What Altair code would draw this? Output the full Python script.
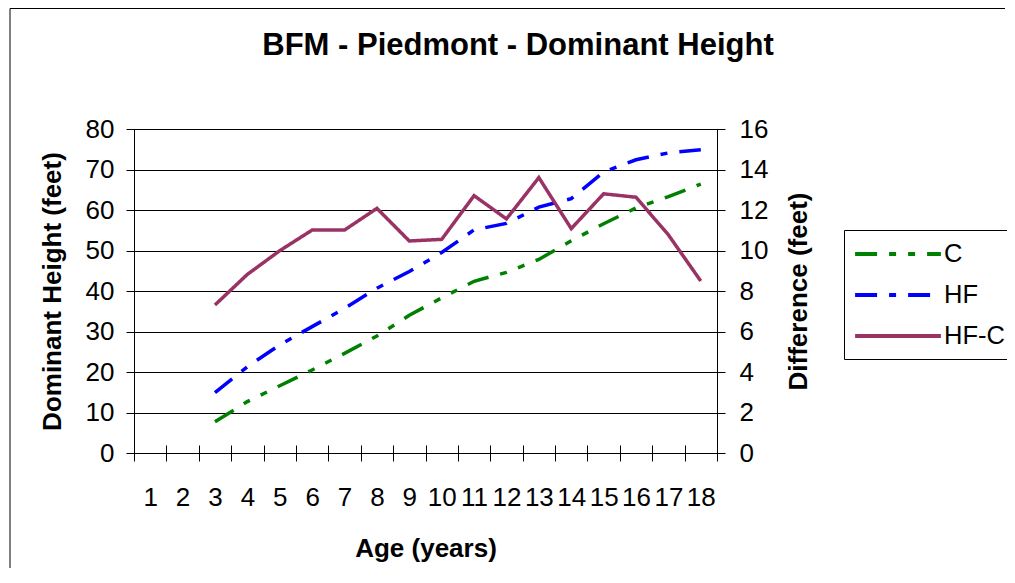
import altair as alt
import pandas as pd

# ---- data ----
ages = list(range(1, 19))
c_vals = [None, None, 7.7, 12.7, 16.6, 20.5, 24.6, 28.9, 34.0, 38.3, 42.4, 44.6, 47.8, 52.4, 56.6, 60.5, 63.3, 66.4]
hf_vals = [None, None, 14.9, 21.3, 26.7, 31.2, 35.7, 40.7, 44.8, 49.5, 55.1, 56.7, 60.7, 62.8, 69.4, 72.4, 74.1, 74.9]
hfc_vals = [None, None, 7.31, 8.82, 9.99, 11.01, 11.01, 12.08, 10.47, 10.55, 12.71, 11.56, 13.6, 11.08, 12.8, 12.63, 10.77, 8.49]

series_names = ["C", "HF", "HF-C"]
series_colors = ["#008000", "#0000FF", "#993366"]
series_dashes = [[22, 12, 7, 12, 7, 12], [22, 12, 7, 12], [1, 0]]

left_ticks = [0, 10, 20, 30, 40, 50, 60, 70, 80]
right_ticks = [0, 2, 4, 6, 8, 10, 12, 14, 16]

FONT = "Liberation Sans"

rows = []
for name, vals in zip(series_names, [c_vals, hf_vals, hfc_vals]):
    for a, v in zip(ages, vals):
        if v is not None:
            rows.append({"age": a, "value": v, "series": name})
df = pd.DataFrame(rows)

x_enc = alt.X(
    "age:O",
    scale=alt.Scale(type="band", domain=ages, paddingInner=0, paddingOuter=0),
    axis=alt.Axis(
        title="Age (years)", tickBand="extent", offset=-8, tickSize=16, domain=False,
        grid=False, labelAngle=0, labelFontSize=26, labelPadding=23, labelOverlap=False,
        titleFontSize=26, titleFontWeight="bold", titleX=291.5, titleY=111,
        titleBaseline="alphabetic", titleAlign="center",
    ),
)

color_enc = alt.Color(
    "series:N",
    scale=alt.Scale(domain=series_names, range=series_colors),
    legend=alt.Legend(
        title=None, orient="none", legendX=710, legendY=101,
        symbolType="M-3.3,0H3.3", symbolSize=676, symbolOffset=30,
        symbolStrokeWidth=4, labelFontSize=25.5, labelFont=FONT,
        labelOffset=31, rowPadding=12, padding=9, strokeColor="black",
        fillColor="white", labelColor="black", labelLimit=0,
    ),
)
dash_enc = alt.StrokeDash(
    "series:N",
    scale=alt.Scale(domain=series_names, range=series_dashes),
)

left = alt.Chart(df).transform_filter(
    alt.FieldOneOfPredicate(field="series", oneOf=["C", "HF"])
).mark_line(strokeWidth=3.5).encode(
    x=x_enc,
    y=alt.Y(
        "value:Q",
        scale=alt.Scale(domain=[0, 80], nice=False),
        axis=alt.Axis(
            title="Dominant Height (feet)", orient="left", values=left_ticks, offset=-8,
            tickSize=16, domain=False, grid=True, gridColor="black", gridOpacity=1,
            gridWidth=1, labelFontSize=26, labelPadding=12, titleFontSize=26,
            titleFontWeight="bold", titleAngle=270, titleX=-82, titleY=162,
            titleBaseline="alphabetic", titleAlign="center",
        ),
    ),
    color=color_enc,
    strokeDash=dash_enc,
    detail="series:N",
)

right = alt.Chart(df).transform_filter(
    alt.FieldEqualPredicate(field="series", equal="HF-C")
).mark_line(strokeWidth=3.5).encode(
    x=alt.X("age:O", scale=alt.Scale(type="band", domain=ages, paddingInner=0, paddingOuter=0)),
    y=alt.Y(
        "value:Q",
        scale=alt.Scale(domain=[0, 16], nice=False),
        axis=alt.Axis(
            title="Difference (feet)", orient="right", values=right_ticks, offset=-8,
            tickSize=16, domain=False, grid=False, labelFontSize=26, labelPadding=14,
            titleFontSize=26, titleFontWeight="bold", titleAngle=270, titleX=97,
            titleY=162, titleBaseline="alphabetic", titleAlign="center",
        ),
    ),
    color=color_enc,
    strokeDash=dash_enc,
)

frame_src = pd.DataFrame({"k": [0]})
border_left = alt.Chart(frame_src).mark_rule(color="black", strokeWidth=1).encode(
    x=alt.value(-124), y=alt.value(-120.5), y2=alt.value(700)
)
border_top = alt.Chart(frame_src).mark_rule(color="black", strokeWidth=1).encode(
    x=alt.value(-124), x2=alt.value(871), y=alt.value(-120.5)
)

chart = alt.layer(border_left, border_top, left, right).resolve_scale(y="independent").properties(
    width=583,
    height=324,
    autosize=alt.AutoSizeParams(type="none"),
    padding={"left": 126, "top": 121, "right": 290, "bottom": 115},
    title=alt.TitleParams(
        "BFM - Piedmont - Dominant Height", fontSize=31, font=FONT, fontWeight="bold",
        anchor="middle", frame="group", dx=92.5, offset=-77.7, baseline="alphabetic",
        color="black",
    ),
).configure(font=FONT).configure_view(
    stroke="black", strokeWidth=1
).configure_axis(
    labelColor="black", tickColor="black", titleColor="black", labelFont=FONT,
    titleFont=FONT, tickWidth=1,
)

chart.save("out.html", embed_options={"renderer": "svg", "actions": False})
